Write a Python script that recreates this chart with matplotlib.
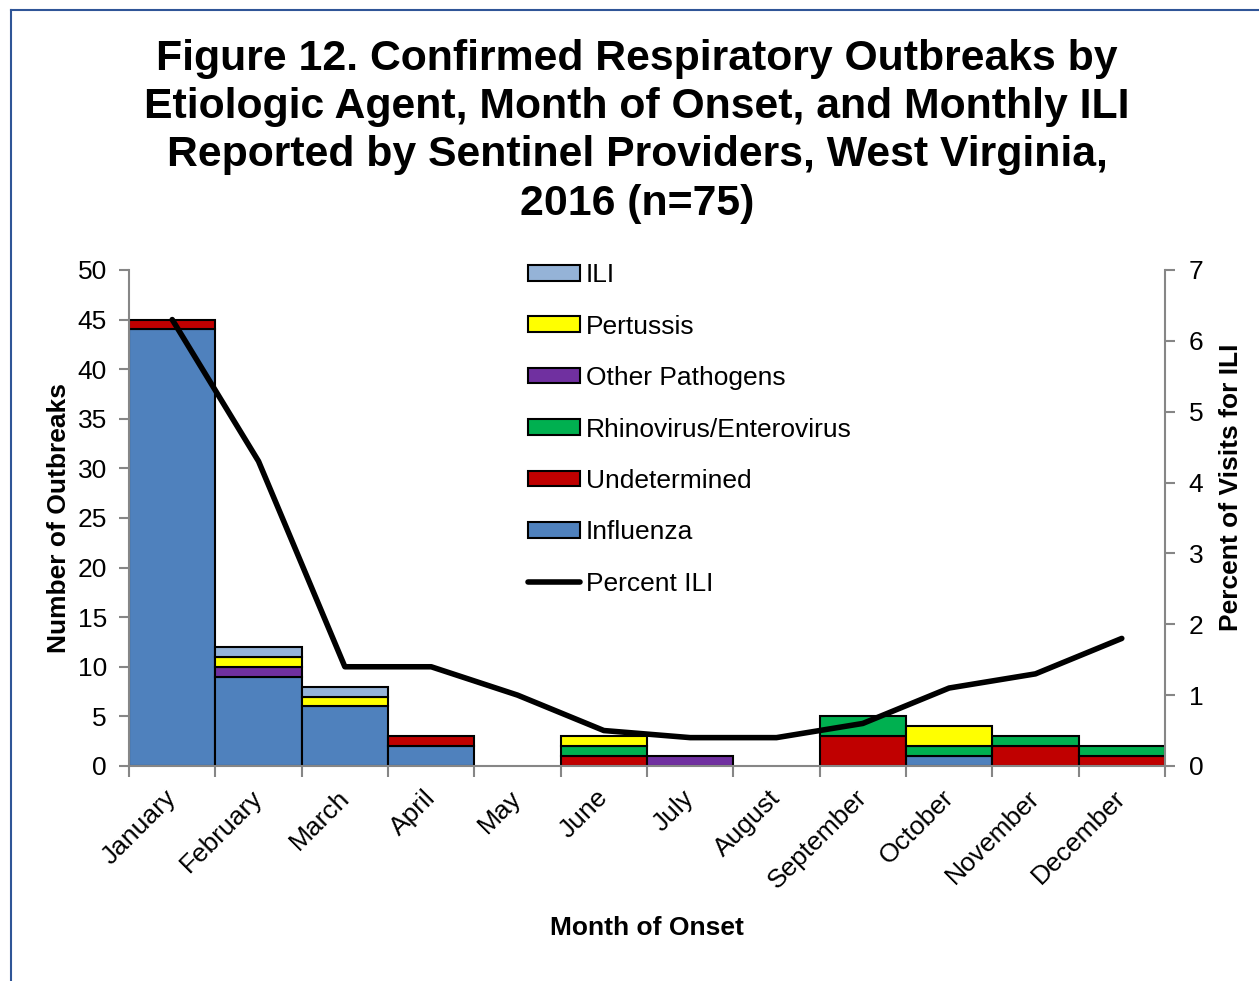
import numpy as np
import matplotlib
matplotlib.use("Agg")
import matplotlib.pyplot as plt
import matplotlib.transforms as mtransforms
from matplotlib.lines import Line2D
from matplotlib.patches import Patch

plt.rcParams['font.family'] = ['Liberation Sans', 'DejaVu Sans']

months = ["January", "February", "March", "April", "May", "June", "July",
          "August", "September", "October", "November", "December"]

# outbreak counts by agent (bottom to top of the stack)
influenza = [44, 9, 6, 2, 0, 0, 0, 0, 0, 1, 0, 0]
undetermined = [1, 0, 0, 1, 0, 1, 0, 0, 3, 0, 2, 1]
rhino_entero = [0, 0, 0, 0, 0, 1, 0, 0, 2, 1, 1, 1]
other_pathogens = [0, 1, 0, 0, 0, 0, 1, 0, 0, 0, 0, 0]
pertussis = [0, 1, 1, 0, 0, 1, 0, 0, 0, 2, 0, 0]
ili = [0, 1, 1, 0, 0, 0, 0, 0, 0, 0, 0, 0]

# percent of visits for ILI
pct_ili = [6.3, 4.3, 1.4, 1.4, 1.0, 0.5, 0.4, 0.4, 0.6, 1.1, 1.3, 1.8]

series = [
    ("Influenza", influenza, "#4F81BD"),
    ("Undetermined", undetermined, "#C00000"),
    ("Rhinovirus/Enterovirus", rhino_entero, "#00B050"),
    ("Other Pathogens", other_pathogens, "#7030A0"),
    ("Pertussis", pertussis, "#FFFF00"),
    ("ILI", ili, "#95B3D7"),
]

FS = 19

fig = plt.figure(figsize=(12.59, 9.81), dpi=100)
ax = fig.add_axes([0.1025, 0.2192, 0.8228, 0.5056])

x = np.arange(len(months))
bottom = np.zeros(len(months))
for name, vals, col in series:
    v = np.array(vals, dtype=float)
    mask = v > 0
    ax.bar(x[mask], v[mask], width=1.0, bottom=bottom[mask], color=col,
           edgecolor="black", linewidth=1.5, zorder=2)
    bottom += v

ax.set_xlim(-0.5, 11.5)
ax.set_ylim(0, 50)
ax.set_yticks(range(0, 51, 5))
ax.set_xticks(x)
ax.set_xticklabels(months, rotation=45, ha="right", rotation_mode="anchor")
ax.set_xticks(np.arange(-0.5, 12, 1), minor=True)
ax.tick_params(axis="x", which="major", length=0, pad=14, labelsize=FS)
ax.tick_params(axis="x", which="minor", length=8, color="#868686", width=1.5)
ax.tick_params(axis="y", length=7, color="#868686", width=1.5, labelsize=FS, pad=9)

# nudge the slanted month labels a little to the left
shift = mtransforms.ScaledTranslation(-8 / 100, 0, fig.dpi_scale_trans)
for lab in ax.get_xticklabels():
    lab.set_transform(lab.get_transform() + shift)

for s in ["top", "right"]:
    ax.spines[s].set_visible(False)
for s in ["left", "bottom"]:
    ax.spines[s].set_color("#868686")
    ax.spines[s].set_linewidth(1.5)

ax.set_ylabel("Number of Outbreaks", fontsize=FS, fontweight="bold")
ax.yaxis.set_label_coords(-0.0565, 0.5)
ax.set_xlabel("Month of Onset", fontsize=FS, fontweight="bold")
ax.xaxis.set_label_coords(0.5, -0.302)

ax2 = ax.twinx()
ax2.plot(x, pct_ili, color="black", linewidth=4, solid_capstyle="round", zorder=3)
ax2.set_ylim(0, 7)
ax2.set_yticks(range(0, 8))
ax2.tick_params(axis="y", length=7, color="#868686", width=1.5, labelsize=FS, pad=10)
for s in ["top", "left", "bottom"]:
    ax2.spines[s].set_visible(False)
ax2.spines["right"].set_color("#868686")
ax2.spines["right"].set_linewidth(1.5)
ax2.set_ylabel("Percent of Visits for ILI", fontsize=FS, fontweight="bold")
ax2.yaxis.set_label_coords(1.052, 0.5625)

handles = [Patch(facecolor=col, edgecolor="black", linewidth=1.5, label=name)
           for name, vals, col in reversed(series)]
handles.append(Line2D([0], [0], color="black", linewidth=4,
                      solid_capstyle="round", label="Percent ILI"))
ax2.legend(handles=handles, loc="upper left", bbox_to_anchor=(0.375, 1.035),
           frameon=False, fontsize=FS, labelspacing=1.04, handlelength=1.97,
           handleheight=0.53, handletextpad=0.23, borderaxespad=0)

fig.text(0.506, 0.866, "Figure 12. Confirmed Respiratory Outbreaks by\n"
         "Etiologic Agent, Month of Onset, and Monthly ILI\n"
         "Reported by Sentinel Providers, West Virginia,\n"
         "2016 (n=75)", ha="center", va="center", fontsize=30.8,
         fontweight="bold", linespacing=1.26)

# frame lines at left and top
fig.add_artist(Line2D([11 / 1259, 11 / 1259], [0, 1 - 10 / 981],
                      transform=fig.transFigure, color="#2F5597", linewidth=1.5))
fig.add_artist(Line2D([11 / 1259, 1], [1 - 10 / 981, 1 - 10 / 981],
                      transform=fig.transFigure, color="#2F5597", linewidth=1.5))

fig.savefig("out.png", dpi=100)
